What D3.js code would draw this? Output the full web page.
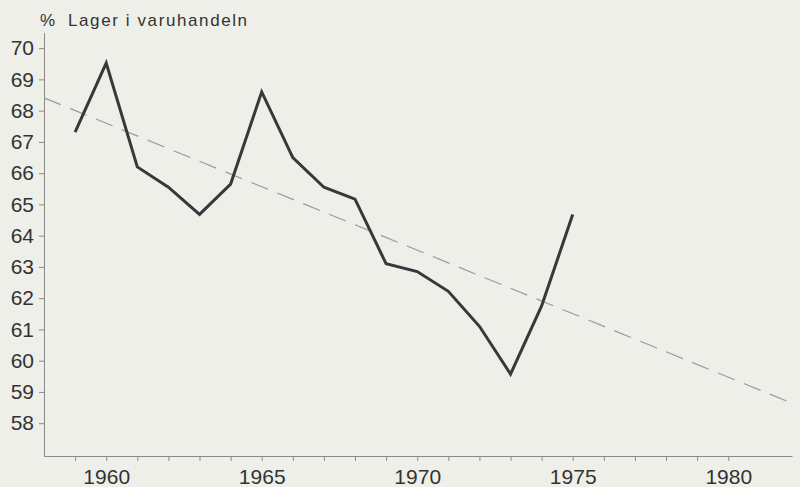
<!DOCTYPE html>
<html lang="sv">

<head>
  <meta charset="UTF-8">
  <script src="https://cdn.jsdelivr.net/npm/d3@7/dist/d3.min.js"></script>
  <title>Lager i varuhandeln</title>
  <style>
    body {
      margin: 0;
      background: #efefe9;
    }

    text {
      font-family: "Liberation Sans", Arial, sans-serif;
      fill: #333;
    }

    .axis path,
    .axis line {
      stroke: #8a8a88;
      stroke-width: 1;
    }
  </style>
</head>

<body>

  <script>
    // data
    const years = [1959, 1960, 1961, 1962, 1963, 1964, 1965, 1966, 1967, 1968, 1969, 1970, 1971, 1972, 1973, 1974, 1975];
    const values = [67.31, 69.52, 66.2, 65.55, 64.68, 65.65, 68.6, 66.5, 65.55, 65.17, 63.1, 62.85, 62.22, 61.1, 59.57, 61.75, 64.68];
    const trendYears = [1958, 1982.05];
    const trendValues = [68.41, 58.64];
    const yTicks = [58, 59, 60, 61, 62, 63, 64, 65, 66, 67, 68, 69, 70];
    const xTicks = d3.range(1959, 1981);
    const xLabels = [1960, 1965, 1970, 1975, 1980];

    const width = 800, height = 487;

    const svg = d3.select('body').append('svg')
      .attr('width', width)
      .attr('height', height);

    const x = d3.scaleLinear().domain([1958, 1982.05]).range([44, 792]);
    const y = d3.scaleLinear().domain([56.95, 70.5]).range([456, 32.5]);

    /******************** title ********************/
    svg.append('text')
      .attr('x', 40).attr('y', 26)
      .style('font-size', '17px')
      .text('%');
    svg.append('text')
      .attr('x', 68).attr('y', 26)
      .style('font-size', '17px')
      .style('letter-spacing', '1.6px')
      .text('Lager i varuhandeln');

    /******************** axes ********************/
    const yAxis = svg.append('g').attr('class', 'axis')
      .attr('transform', 'translate(44,0)')
      .call(d3.axisLeft(y).tickValues(yTicks).tickSize(5).tickSizeOuter(0).tickFormat(d3.format('d')));
    yAxis.selectAll('text')
      .attr('x', -10)
      .style('font-size', '21px')
      .style('fill', '#333');

    const xAxis = svg.append('g').attr('class', 'axis')
      .attr('transform', 'translate(0,456)')
      .call(d3.axisBottom(x).tickValues(xTicks).tickSize(5).tickSizeOuter(0)
        .tickFormat(d => xLabels.includes(d) ? d : ''));
    xAxis.selectAll('text')
      .attr('y', 13)
      .style('font-size', '21px')
      .style('fill', '#333');

    /******************** trend (dashed) ********************/
    svg.append('path')
      .datum(d3.zip(trendYears, trendValues))
      .attr('d', d3.line().x(d => x(d[0])).y(d => y(d[1])))
      .attr('fill', 'none')
      .attr('stroke', '#9a9a98')
      .attr('stroke-width', 1.2)
      .attr('stroke-dasharray', '18,10');

    /******************** series ********************/
    svg.append('path')
      .datum(d3.zip(years, values))
      .attr('d', d3.line().x(d => x(d[0])).y(d => y(d[1])))
      .attr('fill', 'none')
      .attr('stroke', '#38383c')
      .attr('stroke-width', 3)
      .attr('stroke-linejoin', 'miter');

  </script>
</body>

</html>
